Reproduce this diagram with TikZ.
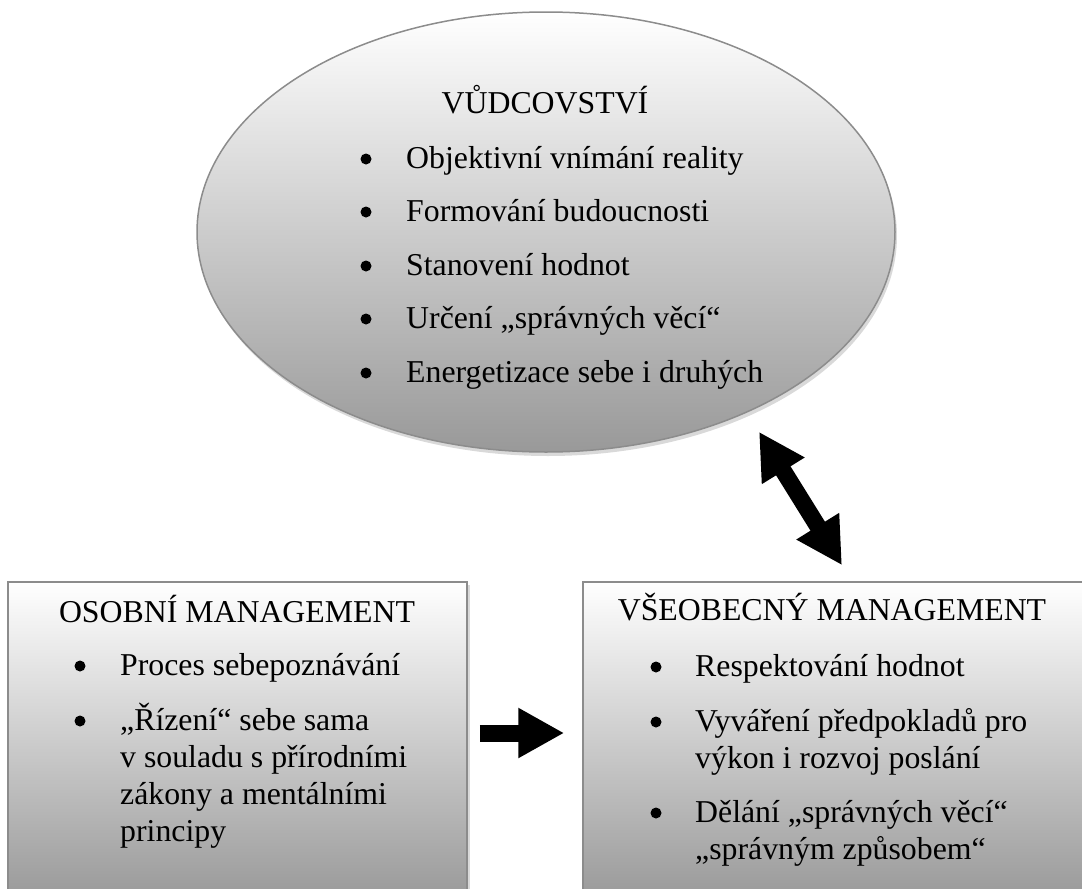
\documentclass[tikz,border=0pt]{standalone}
\usepackage{fontspec}
\setmainfont{Liberation Serif}
\usetikzlibrary{shapes.geometric,arrows.meta,shadows}

\begin{document}
\begin{tikzpicture}[
      x=1pt,y=-1pt,
      font=\fontsize{31.8}{37}\selectfont,
      oval/.style={ellipse,draw=black!45,line width=1.5pt,inner sep=0pt,
        top color=white,bottom color=black!40,
        drop shadow={shadow xshift=2pt,shadow yshift=-4pt,opacity=.3}},
      panel/.style={rectangle,draw=black!45,line width=1.5pt,inner sep=0pt,
        top color=white,bottom color=black!40,
        drop shadow={shadow xshift=3pt,shadow yshift=-3pt,opacity=.3}},
      heading/.style={anchor=base,inner sep=0pt},
      entry/.style={anchor=base west,inner sep=0pt,align=left},
      dot/.style={circle,fill=black,minimum size=11pt,inner sep=0pt},
      fat/.style={-{Triangle[length=46pt,width=47pt]},line width=17pt},
      fatboth/.style={{Triangle[length=46pt,width=47pt]}-{Triangle[length=46pt,width=47pt]},line width=17pt}
      ]

      \useasboundingbox (0,0) rectangle (1082,889);
      \clip (0,0) rectangle (1082,889);

      \node[oval,minimum width=698pt,minimum height=440pt] at (546,232) (lead) {};

      % multi-line entries sit on the baseline of their last line
      \node[heading] at (545,113) (leadtitle) {VŮDCOVSTVÍ};
      \node[dot] at (366,159) (ld1) {};
      \node[entry] at (406,168) (li1) {Objektivní vnímání reality};
      \node[dot] at (366,212) (ld2) {};
      \node[entry] at (406,221) (li2) {Formování budoucnosti};
      \node[dot] at (366,266) (ld3) {};
      \node[entry] at (406,275) (li3) {Stanovení hodnot};
      \node[dot] at (366,319) (ld4) {};
      \node[entry] at (406,328) (li4) {Určení „správných věcí“};
      \node[dot] at (366,373) (ld5) {};
      \node[entry] at (406,382) (li5) {Energetizace sebe i druhých};

      \node[panel,minimum width=459pt,minimum height=318pt] at (237.5,741) (personal) {};

      \node[heading] at (237,622) (ptitle) {OSOBNÍ MANAGEMENT};
      \node[dot] at (80,666) (pd1) {};
      \node[entry] at (120,675) (pi1) {Proces sebepoznávání};
      \node[dot] at (80,721) (pd2) {};
      \node[entry] at (120,841) (pi2) {„Řízení“ sebe sama\\v souladu s přírodními\\zákony a mentálními\\principy};

      \node[panel,minimum width=501pt,minimum height=318pt] at (833.5,741) (general) {};

      \node[heading] at (832,620) (gtitle) {VŠEOBECNÝ MANAGEMENT};
      \node[dot] at (656,667) (gd1) {};
      \node[entry] at (695,676) (gi1) {Respektování hodnot};
      \node[dot] at (656,722) (gd2) {};
      \node[entry] at (695,768) (gi2) {Vyváření předpokladů pro\\výkon i rozvoj poslání};
      \node[dot] at (656,813) (gd3) {};
      \node[entry] at (695,859) (gi3) {Dělání „správných věcí“\\„správným způsobem“};

      \draw[fatboth] ([shift={(213,-21)}]lead.south) -- ([shift={(8.5,-16)}]general.north);
      \draw[fat] ([shift={(12,-8)}]personal.east) -- ([shift={(-18,-8)}]general.west);

    \end{tikzpicture}
\end{document}
